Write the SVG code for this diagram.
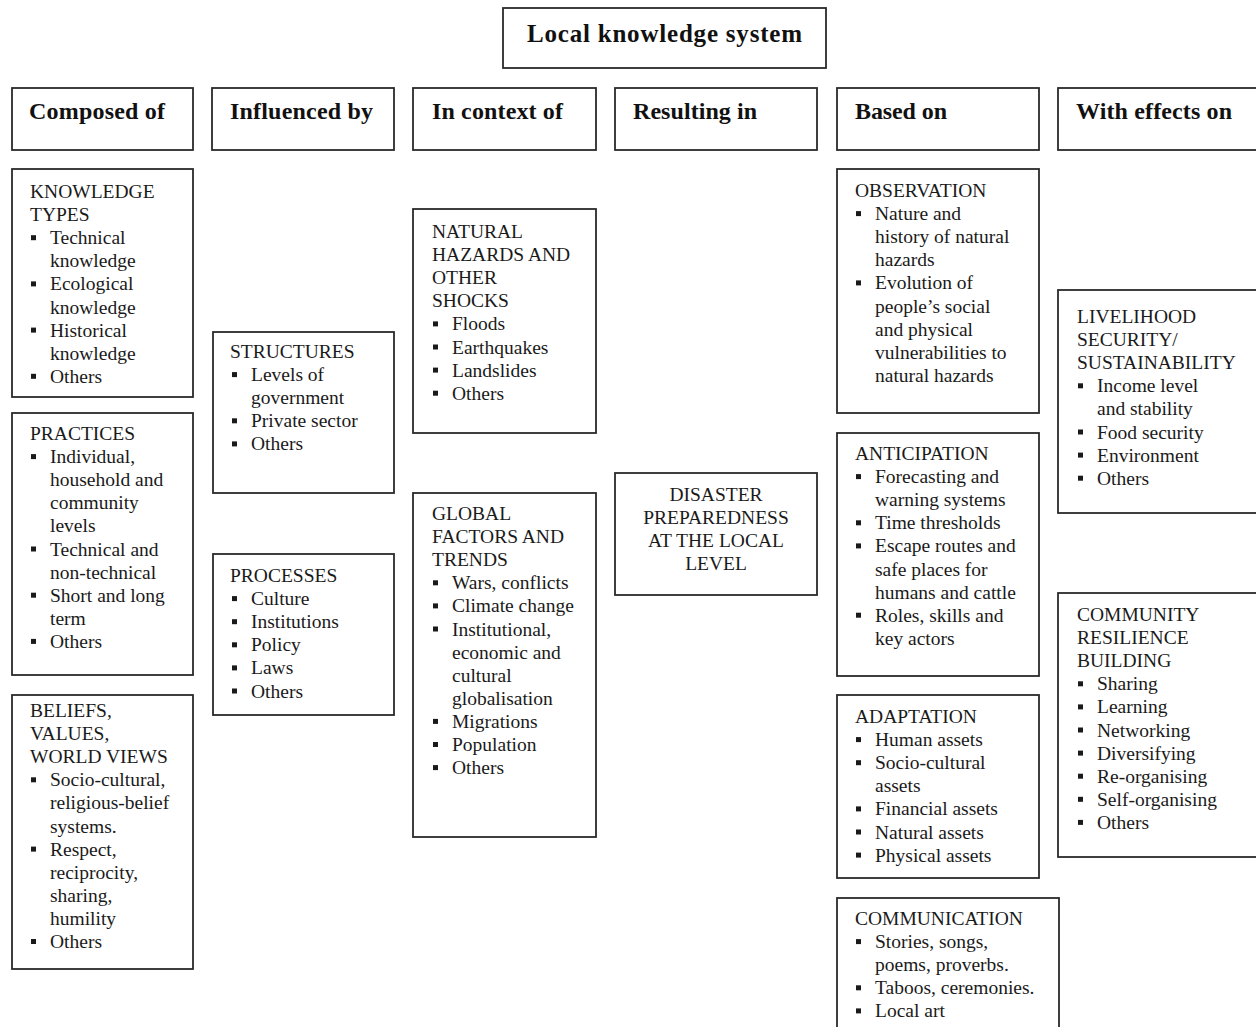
<svg xmlns="http://www.w3.org/2000/svg" width="1256" height="1027" viewBox="0 0 1256 1027">
<style>
.bx{fill:#fff;stroke:#2a2a2a;stroke-width:1.8}
.t{font-family:"Liberation Serif","Times New Roman",serif;font-size:19.5px;fill:#1a1a1a}
.h{font-family:"Liberation Serif","Times New Roman",serif;font-size:24px;font-weight:bold;fill:#111}
.ht{font-size:25px}
.c{text-anchor:middle}
.b{fill:#1a1a1a}
</style>
<defs><rect id="bul" width="5" height="5" class="b"/></defs>
<rect width="1256" height="1027" fill="#fff"/>
<g id="connectors"/>
<g id="title"><rect class="bx" x="503" y="8" width="323" height="60"/><text class="h ht" x="527" y="42" textLength="275" lengthAdjust="spacing">Local knowledge system</text></g>
<g id="h-composed"><rect class="bx" x="12" y="88" width="181" height="62"/><text class="h" x="29" y="119" textLength="136" lengthAdjust="spacing">Composed of</text></g>
<g id="h-influenced"><rect class="bx" x="212" y="88" width="182" height="62"/><text class="h" x="230" y="119" textLength="143" lengthAdjust="spacing">Influenced by</text></g>
<g id="h-context"><rect class="bx" x="413" y="88" width="183" height="62"/><text class="h" x="432" y="119" textLength="131" lengthAdjust="spacing">In context of</text></g>
<g id="h-resulting"><rect class="bx" x="615" y="88" width="202" height="62"/><text class="h" x="633" y="119" textLength="124" lengthAdjust="spacing">Resulting in</text></g>
<g id="h-based"><rect class="bx" x="837" y="88" width="202" height="62"/><text class="h" x="855" y="119" textLength="92" lengthAdjust="spacing">Based on</text></g>
<g id="h-effects"><rect class="bx" x="1058" y="88" width="210" height="62"/><text class="h" x="1076" y="119" textLength="156" lengthAdjust="spacing">With effects on</text></g>

<g id="knowledge-types"><rect class="bx" x="12" y="169" width="181" height="228"/>
<text class="t"><tspan x="30" y="198">KNOWLEDGE</tspan><tspan x="30" y="221.1">TYPES</tspan><tspan x="50" y="244.2">Technical</tspan><tspan x="50" y="267.3">knowledge</tspan><tspan x="50" y="290.4">Ecological</tspan><tspan x="50" y="313.5">knowledge</tspan><tspan x="50" y="336.6">Historical</tspan><tspan x="50" y="359.7">knowledge</tspan><tspan x="50" y="382.8">Others</tspan></text>
<use href="#bul" x="31" y="235.2"/><use href="#bul" x="31" y="281.4"/><use href="#bul" x="31" y="327.6"/><use href="#bul" x="31" y="373.8"/></g>

<g id="practices"><rect class="bx" x="12" y="413" width="181" height="262"/>
<text class="t"><tspan x="30" y="440">PRACTICES</tspan><tspan x="50" y="463.1">Individual,</tspan><tspan x="50" y="486.2">household and</tspan><tspan x="50" y="509.3">community</tspan><tspan x="50" y="532.4">levels</tspan><tspan x="50" y="555.5">Technical and</tspan><tspan x="50" y="578.6">non-technical</tspan><tspan x="50" y="601.7">Short and long</tspan><tspan x="50" y="624.8">term</tspan><tspan x="50" y="647.9">Others</tspan></text>
<use href="#bul" x="31" y="454.1"/><use href="#bul" x="31" y="546.5"/><use href="#bul" x="31" y="592.7"/><use href="#bul" x="31" y="638.9"/></g>

<g id="beliefs"><rect class="bx" x="12" y="695" width="181" height="274"/>
<text class="t"><tspan x="30" y="717">BELIEFS,</tspan><tspan x="30" y="740.1">VALUES,</tspan><tspan x="30" y="763.2">WORLD VIEWS</tspan><tspan x="50" y="786.3">Socio-cultural,</tspan><tspan x="50" y="809.4">religious-belief</tspan><tspan x="50" y="832.5">systems.</tspan><tspan x="50" y="855.6">Respect,</tspan><tspan x="50" y="878.7">reciprocity,</tspan><tspan x="50" y="901.8">sharing,</tspan><tspan x="50" y="924.9">humility</tspan><tspan x="50" y="948">Others</tspan></text>
<use href="#bul" x="31" y="777.3"/><use href="#bul" x="31" y="846.6"/><use href="#bul" x="31" y="939"/></g>

<g id="structures"><rect class="bx" x="213" y="332" width="181" height="161"/>
<text class="t"><tspan x="230" y="358">STRUCTURES</tspan><tspan x="251" y="381.1">Levels of</tspan><tspan x="251" y="404.2">government</tspan><tspan x="251" y="427.3">Private sector</tspan><tspan x="251" y="450.4">Others</tspan></text>
<use href="#bul" x="232" y="372.1"/><use href="#bul" x="232" y="418.3"/><use href="#bul" x="232" y="441.4"/></g>

<g id="processes"><rect class="bx" x="213" y="554" width="181" height="161"/>
<text class="t"><tspan x="230" y="582">PROCESSES</tspan><tspan x="251" y="605.1">Culture</tspan><tspan x="251" y="628.2">Institutions</tspan><tspan x="251" y="651.3">Policy</tspan><tspan x="251" y="674.4">Laws</tspan><tspan x="251" y="697.5">Others</tspan></text>
<use href="#bul" x="232" y="596.1"/><use href="#bul" x="232" y="619.2"/><use href="#bul" x="232" y="642.3"/><use href="#bul" x="232" y="665.4"/><use href="#bul" x="232" y="688.5"/></g>

<g id="natural-hazards"><rect class="bx" x="413" y="209" width="183" height="224"/>
<text class="t"><tspan x="432" y="238">NATURAL</tspan><tspan x="432" y="261.1">HAZARDS AND</tspan><tspan x="432" y="284.2">OTHER</tspan><tspan x="432" y="307.3">SHOCKS</tspan><tspan x="452" y="330.4">Floods</tspan><tspan x="452" y="353.5">Earthquakes</tspan><tspan x="452" y="376.6">Landslides</tspan><tspan x="452" y="399.7">Others</tspan></text>
<use href="#bul" x="433" y="321.4"/><use href="#bul" x="433" y="344.5"/><use href="#bul" x="433" y="367.6"/><use href="#bul" x="433" y="390.7"/></g>

<g id="global-factors"><rect class="bx" x="413" y="493" width="183" height="344"/>
<text class="t"><tspan x="432" y="520">GLOBAL</tspan><tspan x="432" y="543.1">FACTORS AND</tspan><tspan x="432" y="566.2">TRENDS</tspan><tspan x="452" y="589.3">Wars, conflicts</tspan><tspan x="452" y="612.4">Climate change</tspan><tspan x="452" y="635.5">Institutional,</tspan><tspan x="452" y="658.6">economic and</tspan><tspan x="452" y="681.7">cultural</tspan><tspan x="452" y="704.8">globalisation</tspan><tspan x="452" y="727.9">Migrations</tspan><tspan x="452" y="751">Population</tspan><tspan x="452" y="774.1">Others</tspan></text>
<use href="#bul" x="433" y="580.3"/><use href="#bul" x="433" y="603.4"/><use href="#bul" x="433" y="626.5"/><use href="#bul" x="433" y="718.9"/><use href="#bul" x="433" y="742"/><use href="#bul" x="433" y="765.1"/></g>

<g id="disaster-preparedness"><rect class="bx" x="615" y="473" width="202" height="122"/>
<text class="t c"><tspan x="716" y="501">DISASTER</tspan><tspan x="716" y="524.1">PREPAREDNESS</tspan><tspan x="716" y="547.2">AT THE LOCAL</tspan><tspan x="716" y="570.3">LEVEL</tspan></text></g>

<g id="observation"><rect class="bx" x="837" y="169" width="202" height="244"/>
<text class="t"><tspan x="855" y="197">OBSERVATION</tspan><tspan x="875" y="220.1">Nature and</tspan><tspan x="875" y="243.2">history of natural</tspan><tspan x="875" y="266.3">hazards</tspan><tspan x="875" y="289.4">Evolution of</tspan><tspan x="875" y="312.5">people’s social</tspan><tspan x="875" y="335.6">and physical</tspan><tspan x="875" y="358.7">vulnerabilities to</tspan><tspan x="875" y="381.8">natural hazards</tspan></text>
<use href="#bul" x="856" y="211.1"/><use href="#bul" x="856" y="280.4"/></g>

<g id="anticipation"><rect class="bx" x="837" y="433" width="202" height="243"/>
<text class="t"><tspan x="855" y="460">ANTICIPATION</tspan><tspan x="875" y="483.1">Forecasting and</tspan><tspan x="875" y="506.2">warning systems</tspan><tspan x="875" y="529.3">Time thresholds</tspan><tspan x="875" y="552.4">Escape routes and</tspan><tspan x="875" y="575.5">safe places for</tspan><tspan x="875" y="598.6">humans and cattle</tspan><tspan x="875" y="621.7">Roles, skills and</tspan><tspan x="875" y="644.8">key actors</tspan></text>
<use href="#bul" x="856" y="474.1"/><use href="#bul" x="856" y="520.3"/><use href="#bul" x="856" y="543.4"/><use href="#bul" x="856" y="612.7"/></g>

<g id="adaptation"><rect class="bx" x="837" y="695" width="202" height="183"/>
<text class="t"><tspan x="855" y="723">ADAPTATION</tspan><tspan x="875" y="746.1">Human assets</tspan><tspan x="875" y="769.2">Socio-cultural</tspan><tspan x="875" y="792.3">assets</tspan><tspan x="875" y="815.4">Financial assets</tspan><tspan x="875" y="838.5">Natural assets</tspan><tspan x="875" y="861.6">Physical assets</tspan></text>
<use href="#bul" x="856" y="737.1"/><use href="#bul" x="856" y="760.2"/><use href="#bul" x="856" y="806.4"/><use href="#bul" x="856" y="829.5"/><use href="#bul" x="856" y="852.6"/></g>

<g id="communication"><rect class="bx" x="837" y="898" width="222" height="150"/>
<text class="t"><tspan x="855" y="925">COMMUNICATION</tspan><tspan x="875" y="948.1">Stories, songs,</tspan><tspan x="875" y="971.2">poems, proverbs.</tspan><tspan x="875" y="994.3">Taboos, ceremonies.</tspan><tspan x="875" y="1017.4">Local art</tspan></text>
<use href="#bul" x="856" y="939.1"/><use href="#bul" x="856" y="985.3"/><use href="#bul" x="856" y="1008.4"/></g>

<g id="livelihood"><rect class="bx" x="1058" y="290" width="210" height="223"/>
<text class="t"><tspan x="1077" y="323">LIVELIHOOD</tspan><tspan x="1077" y="346.1">SECURITY/</tspan><tspan x="1077" y="369.2">SUSTAINABILITY</tspan><tspan x="1097" y="392.3">Income level</tspan><tspan x="1097" y="415.4">and stability</tspan><tspan x="1097" y="438.5">Food security</tspan><tspan x="1097" y="461.6">Environment</tspan><tspan x="1097" y="484.7">Others</tspan></text>
<use href="#bul" x="1078" y="383.3"/><use href="#bul" x="1078" y="429.5"/><use href="#bul" x="1078" y="452.6"/><use href="#bul" x="1078" y="475.7"/></g>

<g id="community-resilience"><rect class="bx" x="1058" y="593" width="210" height="264"/>
<text class="t"><tspan x="1077" y="621">COMMUNITY</tspan><tspan x="1077" y="644.1">RESILIENCE</tspan><tspan x="1077" y="667.2">BUILDING</tspan><tspan x="1097" y="690.3">Sharing</tspan><tspan x="1097" y="713.4">Learning</tspan><tspan x="1097" y="736.5">Networking</tspan><tspan x="1097" y="759.6">Diversifying</tspan><tspan x="1097" y="782.7">Re-organising</tspan><tspan x="1097" y="805.8">Self-organising</tspan><tspan x="1097" y="828.9">Others</tspan></text>
<use href="#bul" x="1078" y="681.3"/><use href="#bul" x="1078" y="704.4"/><use href="#bul" x="1078" y="727.5"/><use href="#bul" x="1078" y="750.6"/><use href="#bul" x="1078" y="773.7"/><use href="#bul" x="1078" y="796.8"/><use href="#bul" x="1078" y="819.9"/></g>
</svg>
